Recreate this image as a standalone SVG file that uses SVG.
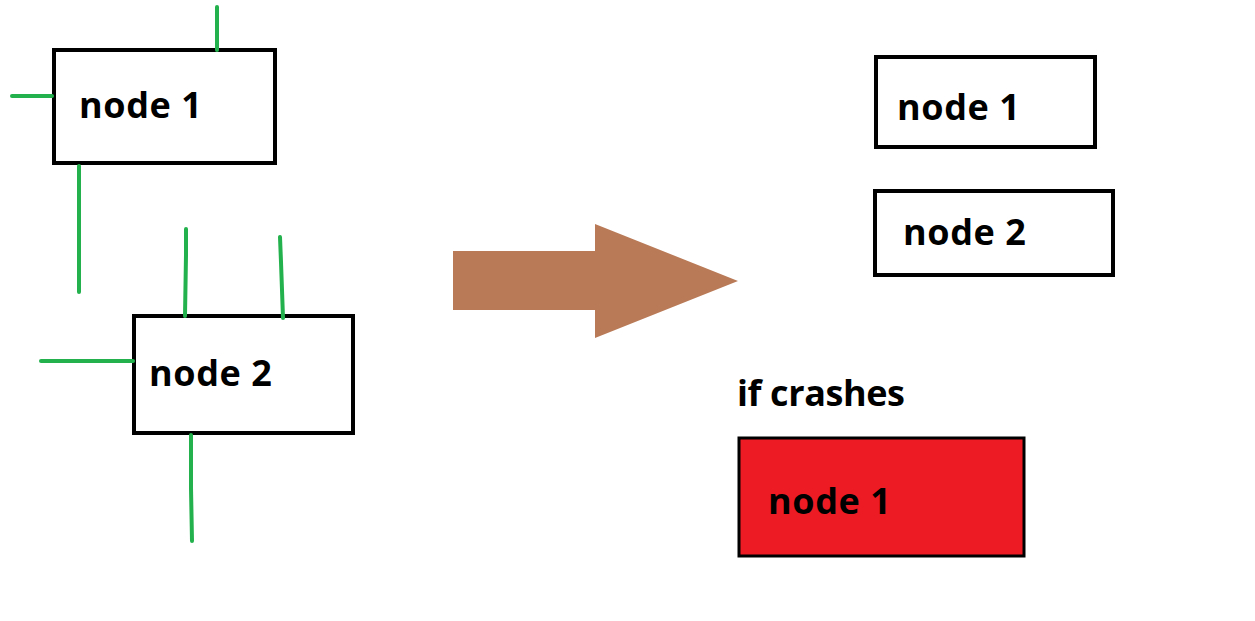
<svg xmlns="http://www.w3.org/2000/svg" width="1255" height="621" viewBox="0 0 1255 621">
<style>
.box{fill:#fff;stroke:#000;stroke-width:4}
.red{fill:#ed1c24;stroke:#000;stroke-width:3}
.lbl{font-family:"Open Sans","Noto Sans",sans-serif;font-weight:bold;font-size:36px;fill:#000}
.g{stroke:#22b14c;stroke-width:4;stroke-linecap:round;fill:none}
</style>
<rect width="1255" height="621" fill="#fff"/>
<g id="left-node1"><rect class="box" x="54" y="50" width="221" height="113"/><text class="lbl" x="79" y="118" letter-spacing="0.6">node 1</text></g>
<g id="left-node2"><rect class="box" x="134" y="316" width="219" height="117"/><text class="lbl" x="149" y="386" letter-spacing="0.6">node 2</text></g>
<g id="connectors">
<line class="g" x1="217" y1="7" x2="217" y2="50"/>
<line class="g" x1="12" y1="96" x2="52" y2="96"/>
<line class="g" x1="79" y1="166" x2="79" y2="292"/>
<polyline class="g" points="186,229 186,255 185,316"/>
<polyline class="g" points="280,237 281,262 283,318"/>
<line class="g" x1="41" y1="361" x2="133" y2="361"/>
<polyline class="g" points="191,435 191,488 192,541"/>
</g>
<g id="arrow"><polygon fill="#b97a57" points="453,251 595,251 595,224 738,281 595,338 595,310 453,310"/></g>
<g id="right-node1"><rect class="box" x="876" y="57" width="219" height="90"/><text class="lbl" x="897" y="120" letter-spacing="0.6">node 1</text></g>
<g id="right-node2"><rect class="box" x="875" y="191" width="238" height="84"/><text class="lbl" x="903" y="245" letter-spacing="0.6">node 2</text></g>
<g id="label"><text class="lbl" x="737" y="406" letter-spacing="-0.4">if crashes</text></g>
<g id="crashed-node1"><rect class="red" x="739" y="438" width="285" height="118"/><text class="lbl" x="768" y="514" letter-spacing="0.6">node 1</text></g>
</svg>
